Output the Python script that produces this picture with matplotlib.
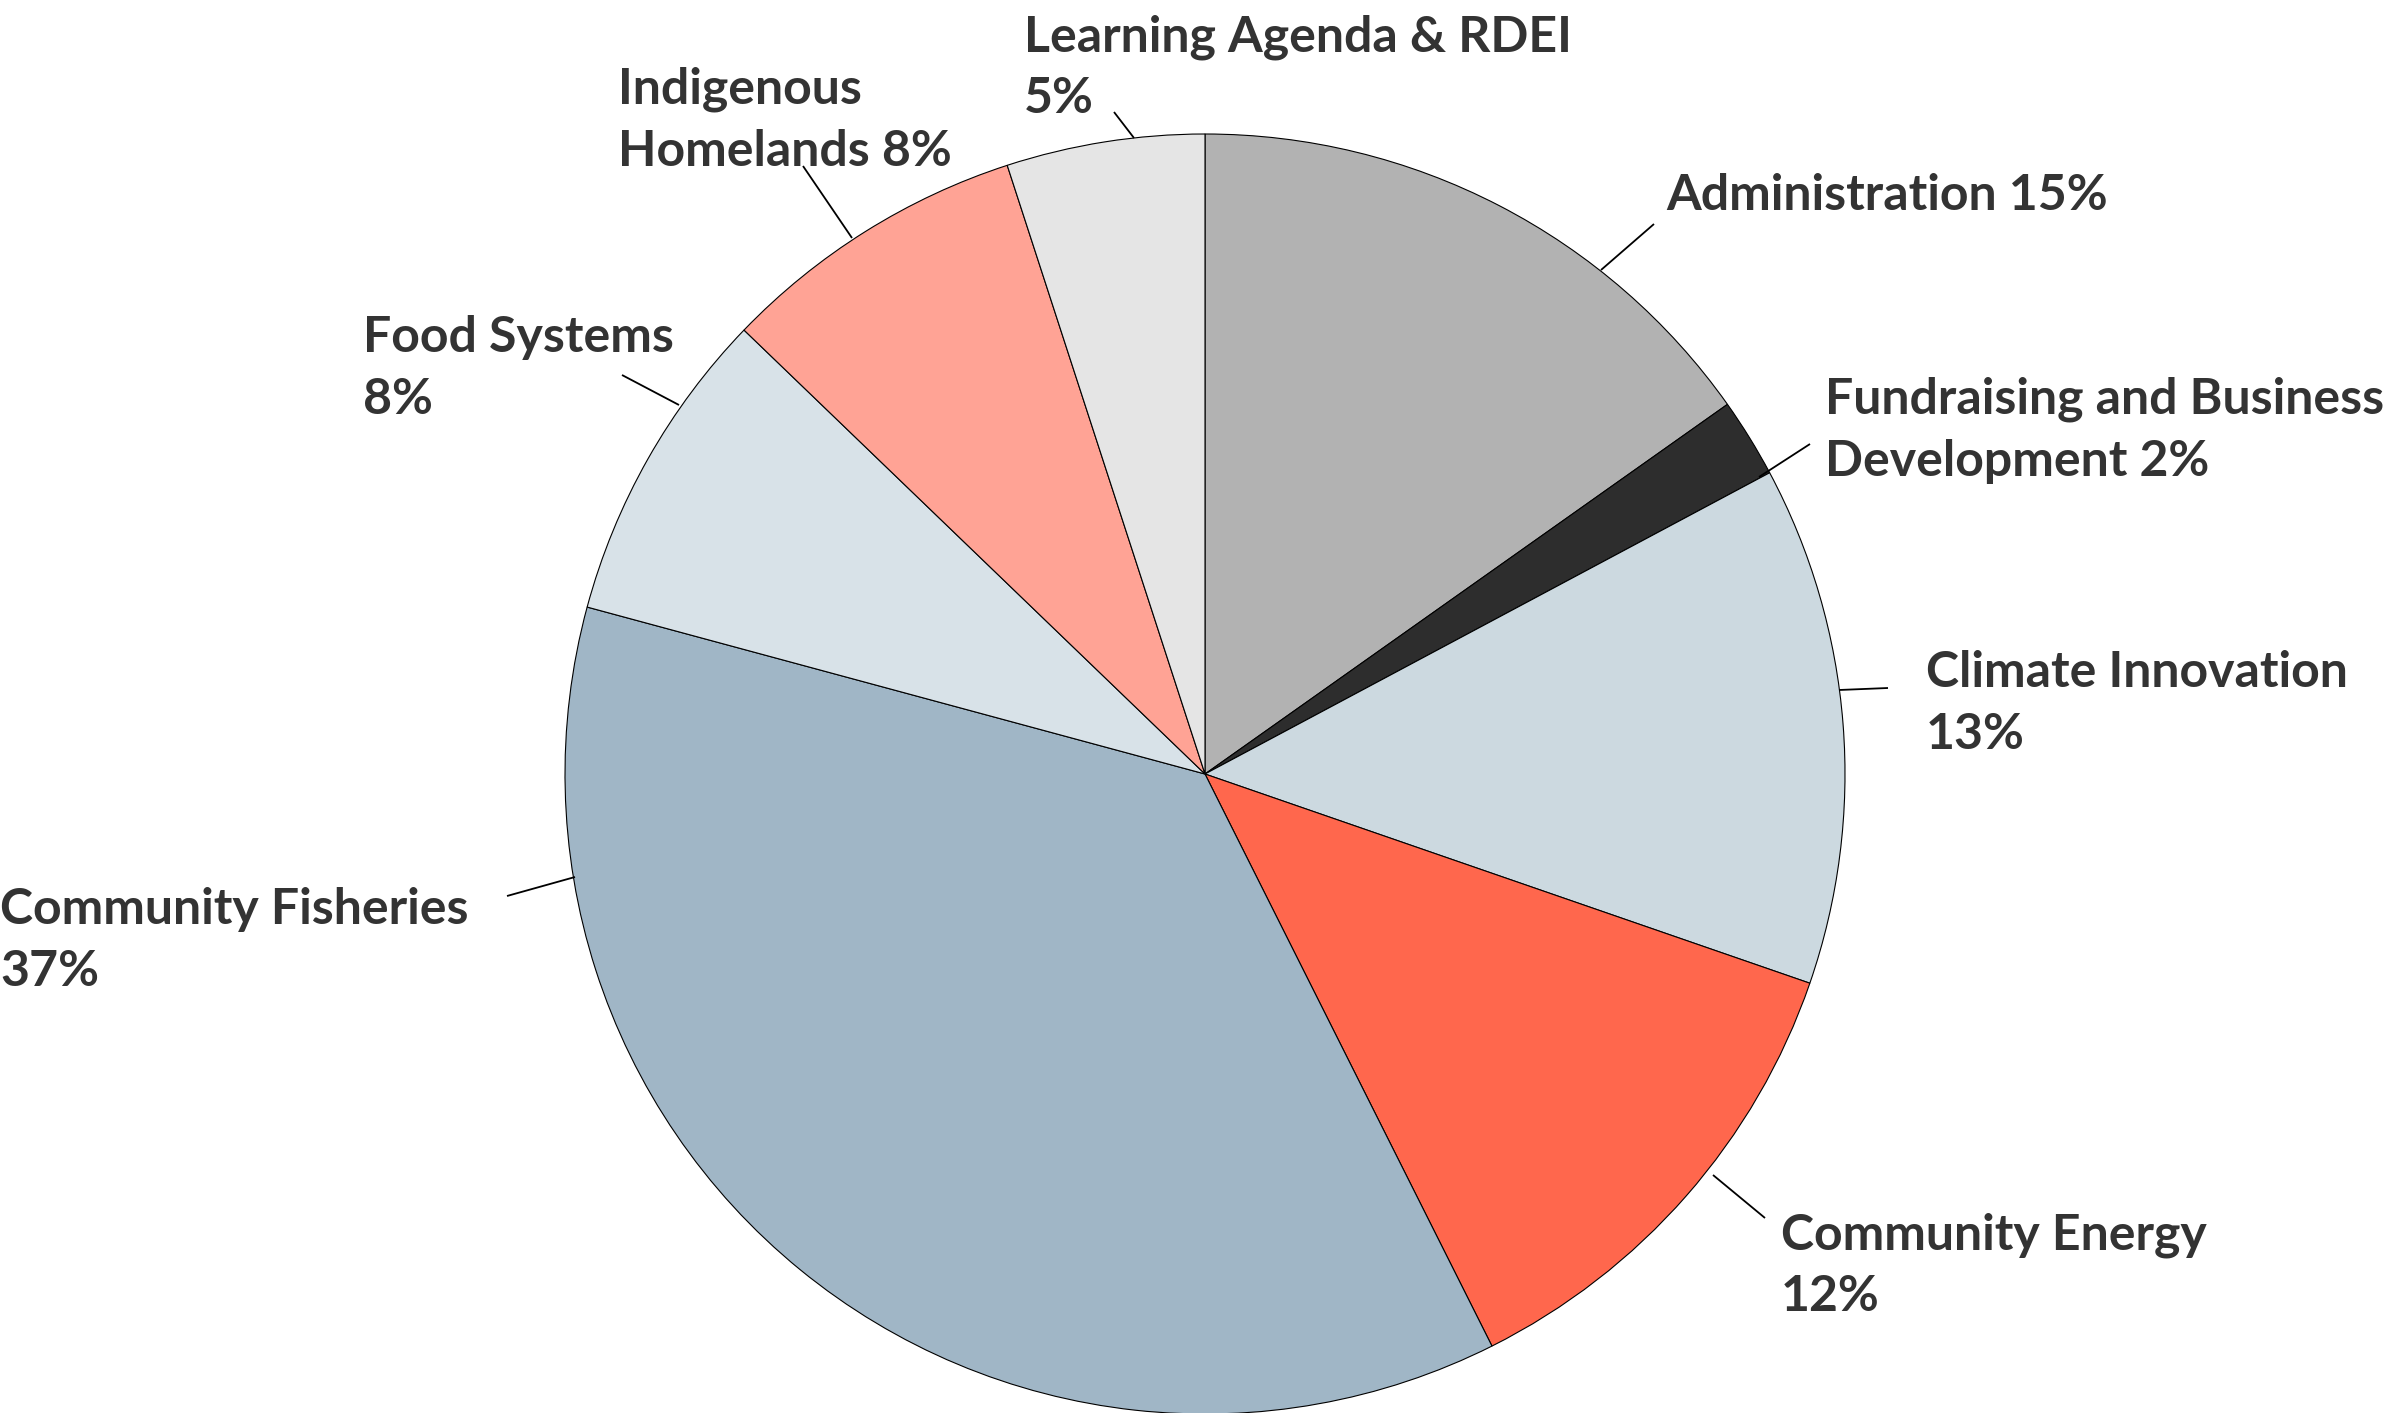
import matplotlib
matplotlib.use("Agg")
import matplotlib.pyplot as plt

# ---- data ----
categories = ["Administration", "Fundraising and Business Development", "Climate Innovation",
              "Community Energy", "Community Fisheries", "Food Systems",
              "Indigenous Homelands", "Learning Agenda & RDEI"]
values = [15.2, 2.0, 13.1, 12.3, 36.6, 8.0, 7.8, 5.0]
pct_labels = ["15%", "2%", "13%", "12%", "37%", "8%", "8%", "5%"]
colors = ["#b2b2b2", "#2d2d2d", "#ccd9e0", "#ff674d", "#a0b6c6", "#d8e2e8", "#ffa395", "#e5e5e5"]

# label text lines (as shown)
label_lines = [
    ["Administration 15%"],
    ["Fundraising and Business", "Development 2%"],
    ["Climate Innovation", "13%"],
    ["Community Energy", "12%"],
    ["Community Fisheries", "37%"],
    ["Food Systems", "8%"],
    ["Indigenous", "Homelands 8%"],
    ["Learning Agenda & RDEI", "5%"],
]

# ---- layout (pixel coords, y from top) ----
W, H = 2403, 1413
CX, CY, R = 1205, 774, 640
text_pos = [(1666, 210), (1825, 414), (1926, 687), (1781, 1249),
            (0, 924), (363, 352), (618, 104), (1024, 51)]
line_gap = 62
connectors = [((1601, 270), (1654, 224)), ((1759, 477), (1810, 444)),
              ((1839, 690), (1888, 688)), ((1713, 1175), (1765, 1218)),
              ((575, 877), (507, 896)), ((679, 405), (622, 375)),
              ((852, 238), (803, 166)), ((1134, 138), (1114, 112))]

plt.rcParams['font.family'] = ['Lato', 'DejaVu Sans']
fig = plt.figure(figsize=(W / 100, H / 100), dpi=100)
ax = fig.add_axes([0, 0, 1, 1])

ax.pie(values, colors=colors, startangle=90, counterclock=False,
       center=(CX, H - CY), radius=R,
       wedgeprops=dict(edgecolor="black", linewidth=0.8))
ax.set_xlim(0, W)
ax.set_ylim(0, H)
ax.set_aspect("equal")
ax.axis("off")

TXT = "#333333"
for lines, (tx, ty) in zip(label_lines, text_pos):
    for i, s in enumerate(lines):
        ax.text(tx, H - (ty + i * line_gap), s, fontsize=36, fontweight="bold",
                color=TXT, ha="left", va="baseline")

for (p0, p1) in connectors:
    ax.plot([p0[0], p1[0]], [H - p0[1], H - p1[1]], color="black", lw=1.3,
            solid_capstyle="butt")

fig.savefig("out.png", dpi=100, facecolor="white")
